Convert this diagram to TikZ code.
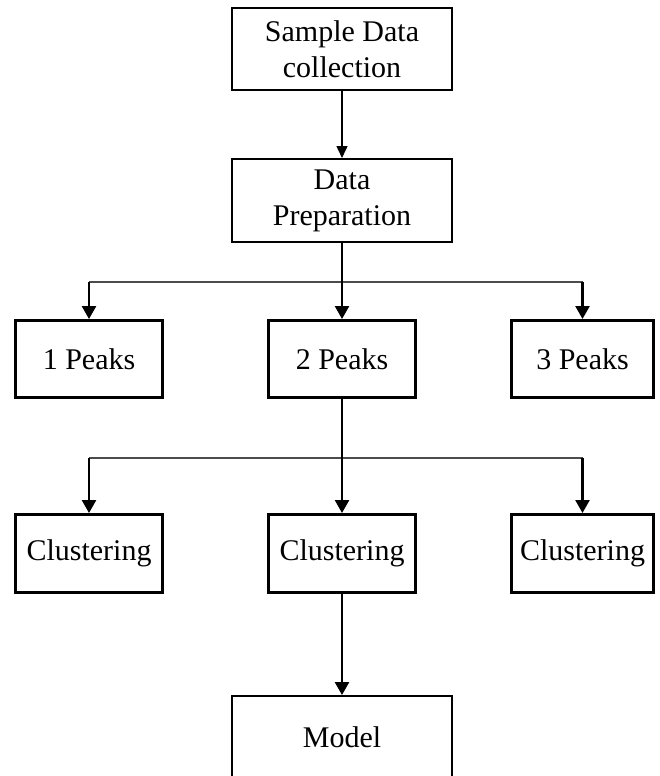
\documentclass[tikz,border=0pt]{standalone}
\usepackage{fontspec}
\setmainfont{Liberation Serif}
\usetikzlibrary{positioning}
\usetikzlibrary{arrows.meta}

\begin{document}
\begin{tikzpicture}[x=1pt,y=-1pt,
  wide/.style={draw, line width=2pt, align=center, inner sep=0pt, minimum width=220pt, minimum height=82pt, font=\fontsize{30}{36}\selectfont},
  small/.style={draw, line width=3pt, align=center, inner sep=0pt, minimum width=147pt, minimum height=77pt, font=\fontsize{30}{36}\selectfont},
  thin/.style={line width=1.5pt, -{Triangle[width=11pt,length=12pt]}},
  arr/.style={line width=2.5pt, -{Triangle[width=14pt,length=13pt]}},
  hline/.style={line width=2.5pt, draw=black!70}]
\useasboundingbox (0,0) rectangle (660,776);

% collection
\node (sample) [wide] at (342,49) {Sample Data\\collection};
\node (prep) [wide, minimum height=83pt, below=67pt of sample] {Data\\Preparation};
\draw[thin] (sample) -- (prep);

% peaks
\node (peaks2) [small, below=76pt of prep] {2 Peaks};
\node (peaks1) [small, left=103pt of peaks2] {1 Peaks};
\node (peaks3) [small, minimum width=142pt, right=93pt of peaks2] {3 Peaks};
\coordinate (fork1) at (prep.south |- 0,282);
\draw[hline] (peaks1.north |- fork1) -- (peaks3.north |- fork1);
\draw[arr] (prep) -- (peaks2);
\draw[arr] (peaks1.north |- fork1) -- (peaks1);
\draw[arr] (peaks3.north |- fork1) -- (peaks3);

% clustering
\node (clus2) [small, minimum height=78pt, below=114pt of peaks2] {Clustering};
\node (clus1) [small, minimum height=78pt, left=103pt of clus2] {Clustering};
\node (clus3) [small, minimum height=78pt, minimum width=142pt, right=93pt of clus2] {Clustering};
\coordinate (fork2) at (peaks2.south |- 0,458);
\draw[hline] (clus1.north |- fork2) -- (clus3.north |- fork2);
\draw[arr] (peaks2) -- (clus2);
\draw[arr] (clus1.north |- fork2) -- (clus1);
\draw[arr] (clus3.north |- fork2) -- (clus3);

% model
\node (model) [wide, below=101pt of clus2] {Model};
\draw[arr] (clus2) -- (model);

\end{tikzpicture}
\end{document}
